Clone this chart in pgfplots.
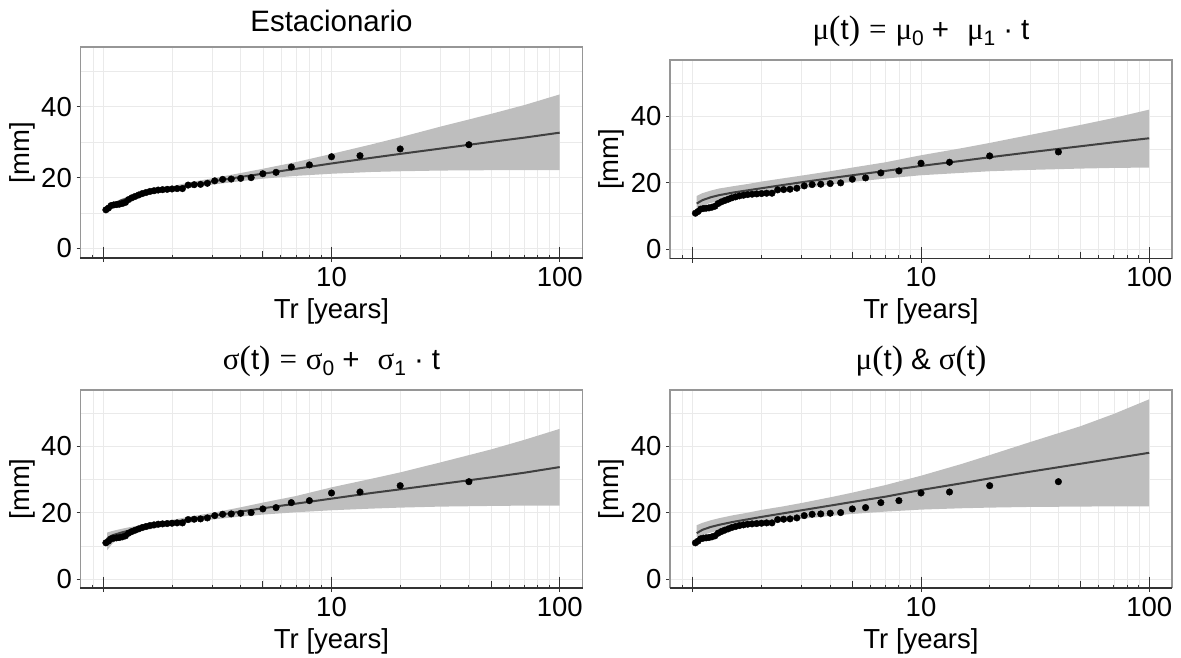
\documentclass[border=0pt]{standalone}
\usepackage{fontspec}
\setmainfont{Liberation Sans}
\newfontfamily\serif{Liberation Serif}
\usepackage{pgfplots}
\usepackage{pgfplotstable}
\pgfplotsset{compat=1.18}
\definecolor{band}{RGB}{190,190,190}
\definecolor{fitline}{RGB}{64,64,64}
\definecolor{gridc}{RGB}{234,234,234}
\definecolor{frame}{RGB}{150,150,150}

\newcommand{\bigfont}{\fontsize{27.5}{32}\selectfont}
\newcommand{\titfont}{\fontsize{29.5}{34}\selectfont}
\newcommand{\sub}[1]{\raisebox{-0.4ex}{\fontsize{21}{21}\selectfont #1}}
\newcommand{\gr}[1]{{\serif\fontsize{31}{34}\selectfont #1}}
\newcommand{\lp}{{\serif\fontsize{34}{36}\selectfont (}}
\newcommand{\rp}{{\serif\fontsize{34}{36}\selectfont )}}

% observed maxima, Weibull plotting position
\pgfplotstableread{
T v
40 29.3
20 28.1
13.33 26.2
10 25.9
8 23.6
6.667 23.0
5.714 21.5
5 21.1
4.444 20.0
4 19.8
3.636 19.6
3.333 19.5
3.077 19.1
2.857 18.4
2.667 18.1
2.5 18.0
2.353 17.9
2.222 16.9
2.105 16.9
2 16.8
1.905 16.7
1.818 16.6
1.739 16.5
1.667 16.3
1.6 16.1
1.538 15.8
1.481 15.5
1.429 15.1
1.379 14.7
1.333 14.3
1.29 13.8
1.25 13.0
1.212 12.7
1.176 12.5
1.143 12.4
1.111 12.3
1.081 12.1
1.053 11.4
1.026 10.9
}\obs

% fitted return levels
\pgfplotstableread{
T fit
1.026 10.9
1.05 11.6
1.1 12.5
1.2 13.6
1.3 14.3
1.5 15.4
1.75 16.3
2 17.0
2.5 18.1
3 18.9
4 20.2
5 21.1
7 22.5
10 24.0
15 25.6
20 26.7
30 28.2
50 30.1
70 31.3
100 32.7
}\fitA

\pgfplotstableread{
T fit
1.04 13.8
1.1 14.8
1.2 15.7
1.3 16.3
1.5 17.1
1.75 17.8
2 18.4
2.5 19.4
3 20.2
4 21.4
5 22.3
7 23.6
10 25.1
15 26.6
20 27.7
30 29.2
50 31.0
70 32.2
100 33.4
}\fitB

\pgfplotstableread{
T fit
1.04 12.3
1.1 13.2
1.2 14.0
1.3 14.6
1.5 15.5
1.75 16.4
2 17.1
2.5 18.2
3 19.0
4 20.3
5 21.3
7 22.7
10 24.2
15 25.9
20 27.0
30 28.6
50 30.6
70 32.0
100 33.7
}\fitC

\pgfplotstableread{
T fit
1.04 13.8
1.1 14.8
1.2 15.7
1.3 16.3
1.5 17.2
1.75 18.0
2 18.7
2.5 19.8
3 20.7
4 22.1
5 23.2
7 24.8
10 26.8
15 28.8
20 30.3
30 32.3
50 34.7
70 36.3
100 38.0
}\fitD

\pgfplotsset{every axis/.append style={
  scale only axis, width=502pt, anchor=south west, clip=false,
  xmin=0.7943, xmax=125.89, ymin=-2.7, ymax=56.9,
  xtick={1,10,100}, xticklabels={,10,100},
  minor xtick={0.9,2,3,4,5,6,7,8,9,20,30,40,50,60,70,80,90},
  ytick={0,20,40}, yticklabels={0,20,40}, minor ytick={10,30,50},
  tick pos=left, tick align=outside, major tick length=4pt, minor tick length=0pt,
  grid=both, major grid style={gridc, line width=0.9pt}, minor grid style={gridc, line width=0.5pt},
  axis line style={draw=none},
  tick style={black!80, line width=1pt},
  tick label style={font=\bigfont},
  yticklabel style={inner sep=0pt, xshift=-4.5pt},
  xticklabel style={inner sep=0pt, yshift=-5pt},
  label style={font=\bigfont},
  xlabel style={at={(axis description cs:0.5,0)}, anchor=base, yshift=-60pt},
  ylabel style={at={(axis description cs:-0.1165,0.5)}, anchor=center},
  title style={font=\titfont, at={(axis description cs:0.5,1)}, anchor=base, yshift=14.7pt},
}}

% fitted line, observations, frame and log ticks on the bottom edge
\newcommand{\fitobs}[1]{%
\addplot[fitline, line width=2pt] table[x=T, y=fit] {#1};
\addplot[only marks, mark=*, mark size=3.3pt, black] table[x=T, y=v] {\obs};
\draw[frame, line width=1.2pt] (rel axis cs:0,0) -- (rel axis cs:0,1) -- (rel axis cs:1,1) -- (rel axis cs:1,0);
\draw[black!80, line width=1.2pt] (rel axis cs:0,0) -- (rel axis cs:1,0);
\addplot[only marks, mark=|, mark size=5.75pt, mark options={yshift=5.75pt, line width=1pt, draw=black!80}, forget plot]
  coordinates {(1,-2.7) (10,-2.7) (100,-2.7)};
\addplot[only marks, mark=|, mark size=3.5pt, mark options={yshift=3.5pt, line width=1pt, draw=black!80}, forget plot]
  coordinates {(5,-2.7) (50,-2.7)};
\addplot[only marks, mark=|, mark size=1.75pt, mark options={yshift=1.75pt, line width=1pt, draw=black!80}, forget plot]
  coordinates {(0.9,-2.7) (2,-2.7) (3,-2.7) (4,-2.7) (6,-2.7) (7,-2.7) (8,-2.7) (9,-2.7)
  (20,-2.7) (30,-2.7) (40,-2.7) (60,-2.7) (70,-2.7) (80,-2.7) (90,-2.7)};
}

\begin{document}
\begin{tikzpicture}
\path (0,0) rectangle (1181pt,656pt);

\begin{semilogxaxis}[at={(80.5pt,398pt)}, height=211pt, xlabel={Tr [years]}, ylabel={{[mm]}},
  title={Estacionario}, title style={yshift=-5.4pt}]
% confidence band: upper edge, then lower edge back
\addplot[fill=band, draw=none] coordinates {
(1.026,11.3)(1.05,12.0)(1.1,12.9)(1.2,14.0)(1.3,14.8)(1.5,15.9)(1.75,16.9)(2,17.6)(2.5,18.9)(3,19.8)
(4,21.3)(5,22.5)(7,24.4)(10,26.7)(15,29.4)(20,31.4)(30,34.4)(50,38.0)(70,40.5)(100,43.5)
(100,22.1)(70,22.1)(50,22.1)(30,22.0)(20,21.8)(15,21.6)(10,21.1)(7,20.5)(5,19.7)(4,19.0)
(3,18.0)(2.5,17.3)(2,16.3)(1.75,15.7)(1.5,14.8)(1.3,13.8)(1.2,13.1)(1.1,12.0)(1.05,11.1)(1.026,10.4)};
\fitobs{\fitA}
\end{semilogxaxis}

\begin{semilogxaxis}[at={(670pt,397.5pt)}, height=198.5pt, xlabel={Tr [years]}, ylabel={{[mm]}},
  title={\gr{μ}\lp t\rp\hspace{9pt}\gr{=}\hspace{9pt}\gr{μ}\sub{0}\hspace{8pt}+\hspace{18pt}\gr{μ}\sub{1}\hspace{8pt}·\hspace{8pt}t}]
\addplot[fill=band, draw=none] coordinates {
(1.04,16.1)(1.1,16.9)(1.2,17.7)(1.3,18.3)(1.5,19.0)(1.75,19.7)(2,20.4)(2.5,21.4)(3,22.2)
(4,23.5)(5,24.6)(7,26.2)(10,28.3)(15,30.4)(20,32.0)(30,34.4)(50,37.4)(70,39.5)(100,42.0)
(100,24.6)(70,24.5)(50,24.3)(30,23.9)(20,23.5)(15,23.0)(10,22.3)(7,21.3)(5,20.3)(4,19.5)
(3,18.3)(2.5,17.5)(2,16.5)(1.75,15.9)(1.5,15.2)(1.3,14.5)(1.2,14.0)(1.1,13.2)(1.04,12.6)};
\fitobs{\fitB}
\end{semilogxaxis}

\begin{semilogxaxis}[at={(80.5pt,68pt)}, height=198pt, xlabel={Tr [years]}, ylabel={{[mm]}},
  title={\gr{σ}\lp t\rp\hspace{9pt}\gr{=}\hspace{9pt}\gr{σ}\sub{0}\hspace{8pt}+\hspace{18pt}\gr{σ}\sub{1}\hspace{8pt}·\hspace{8pt}t}]
\addplot[fill=band, draw=none] coordinates {
(1.04,14.0)(1.1,14.5)(1.2,15.1)(1.3,15.6)(1.5,16.3)(1.75,17.1)(2,17.8)(2.5,19.0)(3,19.9)
(4,21.6)(5,23.0)(7,25.0)(10,27.6)(15,30.2)(20,32.1)(30,35.1)(50,39.0)(70,41.9)(100,45.2)
(100,22.1)(70,22.1)(50,22.0)(30,21.8)(20,21.5)(15,21.2)(10,20.7)(7,20.1)(5,19.4)(4,18.8)
(3,17.9)(2.5,17.2)(2,16.2)(1.75,15.5)(1.5,14.6)(1.3,13.5)(1.2,12.6)(1.1,10.8)(1.04,8.7)};
\fitobs{\fitC}
\end{semilogxaxis}

\begin{semilogxaxis}[at={(670pt,68pt)}, height=198pt, xlabel={Tr [years]}, ylabel={{[mm]}},
  title={\gr{μ}\lp t\rp\hspace{8pt}\&\hspace{8pt}\gr{σ}\lp t\rp}]
\addplot[fill=band, draw=none] coordinates {
(1.04,16.2)(1.1,16.9)(1.2,17.7)(1.3,18.3)(1.5,19.2)(1.75,20.0)(2,20.8)(2.5,21.9)(3,22.9)
(4,24.6)(5,26.0)(7,28.3)(10,31.1)(15,34.6)(20,37.3)(30,41.2)(50,46.0)(70,49.7)(100,54.1)
(100,21.9)(70,21.9)(50,21.8)(30,21.7)(20,21.5)(15,21.3)(10,20.9)(7,20.3)(5,19.6)(4,19.0)
(3,18.1)(2.5,17.5)(2,16.6)(1.75,16.0)(1.5,15.3)(1.3,14.6)(1.2,14.0)(1.1,13.2)(1.04,12.6)};
\fitobs{\fitD}
\end{semilogxaxis}
\end{tikzpicture}
\end{document}
